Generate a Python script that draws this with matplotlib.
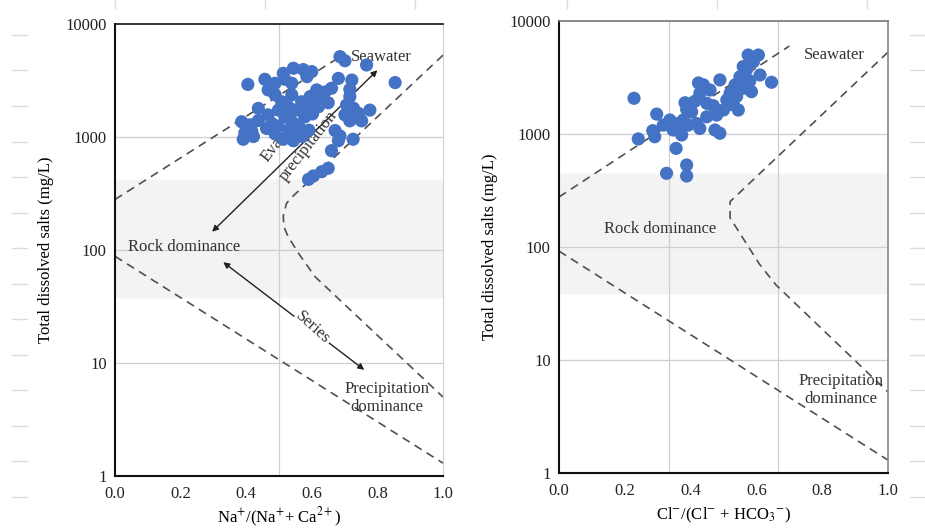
import numpy as np
from matplotlib import pyplot as plt
from matplotlib.lines import Line2D

plt.rcParams['font.family'] = ['Liberation Serif', 'DejaVu Serif']
plt.rcParams['mathtext.fontset'] = 'stix'

# ---- data ----
# left panel: Na+/(Na+ + Ca2+) vs TDS
na_ratio = [0.405, 0.457, 0.513, 0.544, 0.574, 0.600, 0.686, 0.701, 0.767, 0.854,
            0.722, 0.716, 0.681, 0.615, 0.640, 0.660, 0.467, 0.488, 0.508, 0.539,
            0.569, 0.595, 0.625, 0.650, 0.706, 0.727, 0.742, 0.777, 0.386, 0.412,
            0.396, 0.422, 0.391, 0.467, 0.462, 0.488, 0.513, 0.544, 0.571, 0.591,
            0.518, 0.539, 0.559, 0.579, 0.602, 0.671, 0.686, 0.681, 0.726, 0.660,
            0.650, 0.630, 0.605, 0.590, 0.716, 0.733, 0.620, 0.528, 0.549, 0.498,
            0.437, 0.488, 0.518, 0.585, 0.539, 0.701, 0.478, 0.498, 0.528, 0.559,
            0.437, 0.569, 0.590, 0.752, 0.716, 0.417]
na_tds = [2920, 3240, 3660, 4060, 3950, 3790, 5140, 4730, 4340, 3030,
          3190, 2640, 3300, 2610, 2500, 2700, 2610, 2360, 2050, 2360,
          2050, 2280, 2050, 2010, 1920, 1800, 1620, 1730, 1365, 1280,
          1090, 1010, 955, 1570, 1190, 1065, 955, 927, 1010, 1150,
          1510, 1365, 1280, 1510, 1600, 1140, 1020, 927, 955, 757,
          529, 493, 452, 422, 1390, 1480, 1850, 1850, 1730, 1730,
          1790, 2990, 3240, 3420, 2990, 1570, 1320, 1250, 1150, 1110,
          1400, 1730, 1920, 1390, 2280, 1130]

# right panel: Cl-/(Cl- + HCO3-) vs TDS
cl_ratio = [0.228, 0.241, 0.297, 0.285, 0.291, 0.327, 0.388, 0.388, 0.356, 0.317,
            0.337, 0.347, 0.363, 0.378, 0.373, 0.383, 0.403, 0.418, 0.428, 0.439,
            0.428, 0.459, 0.489, 0.474, 0.489, 0.479, 0.510, 0.530, 0.545, 0.540,
            0.535, 0.550, 0.560, 0.575, 0.606, 0.591, 0.611, 0.646, 0.580, 0.560,
            0.520, 0.449, 0.413, 0.388, 0.449, 0.500, 0.424, 0.342, 0.393, 0.570,
            0.585, 0.540, 0.469]
cl_tds = [2070, 904, 1500, 1070, 946, 449, 532, 425, 746, 1200,
          1330, 1085, 1240, 1330, 980, 1890, 1570, 1240, 1120, 2720,
          2290, 2450, 3010, 1085, 1015, 1470, 2000, 1810, 1630, 2450,
          2720, 3210, 3950, 5000, 5000, 4360, 3330, 2870, 2950, 2540,
          2290, 1870, 1950, 1650, 1420, 1630, 2830, 1200, 1200, 3700,
          2370, 2150, 1780]

# Gibbs boundary curves
left_upper_x = [0.0, 0.68]
left_upper_y = [280, 5000]
left_outer_x = [1.0, 0.579, 0.540, 0.523, 0.513, 0.515, 0.528, 0.559, 0.610, 1.0]
left_outer_y = [5300, 376, 295, 259, 200, 160, 131, 94, 58, 5.0]
left_lower_x = [0.0, 1.0]
left_lower_y = [88, 1.3]

right_upper_x = [0.0, 0.70]
right_upper_y = [277, 6000]
right_outer_x = [1.0, 0.52, 0.52, 0.61, 0.66, 1.0]
right_outer_y = [5300, 252, 181, 70, 46, 5.2]
right_lower_x = [0.0, 1.0]
right_lower_y = [92, 1.3]

yticks = [1, 10, 100, 1000, 10000]
xticks = [0.0, 0.2, 0.4, 0.6, 0.8, 1.0]
blue = '#4472C4'
dash_col = '#505050'
txt_col = '#333333'
fs = 12

fig = plt.figure(figsize=(9.25, 5.31), dpi=100)

# faint sheet lines behind the figure
stub = '#dcdcdc'
for yy in np.arange(35, 531, 35.5):
    fig.add_artist(Line2D([12/925, 27/925], [1-yy/531]*2, color=stub, lw=1))
    fig.add_artist(Line2D([910/925, 925/925], [1-yy/531]*2, color=stub, lw=1))
for xx in [115, 265, 415, 567, 717, 867]:
    fig.add_artist(Line2D([xx/925]*2, [1, 1-8/531], color=stub, lw=1))

ax1 = fig.add_axes([115/925, 1-476/531, 328/925, 452/531])
ax2 = fig.add_axes([559/925, 1-473/531, 329/925, 452/531])

for ax, vgrid in [(ax1, [0.5]), (ax2, [1/3, 2/3])]:
    ax.set_yscale('log')
    ax.set_xlim(0, 1)
    ax.set_ylim(1, 10000)
    ax.set_yticks(yticks)
    ax.set_yticklabels([str(v) for v in yticks])
    ax.minorticks_off()
    ax.set_xticks(xticks)
    ax.set_xticklabels(['%.1f' % v for v in xticks])
    ax.tick_params(length=0, labelsize=fs, colors='#222222')
    ax.tick_params(axis='x', pad=7)
    ax.tick_params(axis='y', pad=6)
    for v in vgrid:
        ax.axvline(v, color='#cfcfcf', lw=0.9, zorder=0.5)
    for v in [10, 100, 1000]:
        ax.axhline(v, color='#cfcfcf', lw=0.9, zorder=0.5)
    ax.set_ylabel('Total dissolved salts (mg/L)', fontsize=fs, labelpad=8)
    ax.spines['left'].set_color('#111111')
    ax.spines['bottom'].set_color('#111111')
    ax.spines['left'].set_linewidth(1.5)
    ax.spines['bottom'].set_linewidth(1.5)

ax1.spines['top'].set_color('#111111')
ax1.spines['top'].set_linewidth(1.2)
ax1.spines['right'].set_color('#d0d0d0')
ax2.spines['top'].set_color('#777777')
ax2.spines['right'].set_color('#888888')
ax2.spines['top'].set_linewidth(1.2)
ax2.spines['right'].set_linewidth(1.2)

# rock dominance band
ax1.axhspan(38, 420, color='#f3f3f3', zorder=0)
ax2.axhspan(39, 445, color='#f3f3f3', zorder=0)

dash = dict(color=dash_col, lw=1.2, ls=(0, (5, 3.5)), zorder=2)
ax1.plot(left_upper_x, left_upper_y, **dash)
ax1.plot(left_outer_x, left_outer_y, **dash)
ax1.plot(left_lower_x, left_lower_y, **dash)
ax2.plot(right_upper_x, right_upper_y, **dash)
ax2.plot(right_outer_x, right_outer_y, **dash)
ax2.plot(right_lower_x, right_lower_y, **dash)

# left panel arrows and labels
ax1.annotate('', xy=(0.296, 145), xytext=(0.80, 3900),
             arrowprops=dict(arrowstyle='<|-|>', color='#222222', lw=1,
                             mutation_scale=9, shrinkA=0, shrinkB=0), zorder=2)
ax1.annotate('', xy=(0.33, 78), xytext=(0.76, 8.7),
             arrowprops=dict(arrowstyle='<|-|>', color='#222222', lw=1,
                             mutation_scale=9, shrinkA=0, shrinkB=0), zorder=2)
ax1.text(0.604, 20.4, 'Series', rotation=-42, ha='center', va='center',
         fontsize=fs, color=txt_col, zorder=3,
         bbox=dict(facecolor='white', edgecolor='none', pad=1))
ax1.text(0.466, 590, 'Evaporation', rotation=52, rotation_mode='anchor',
         ha='left', va='baseline', fontsize=fs, color=txt_col, zorder=3)
ax1.text(0.521, 400, 'precipitation', rotation=52, rotation_mode='anchor',
         ha='left', va='baseline', fontsize=fs, color=txt_col, zorder=3)
ax1.text(0.811, 5100, 'Seawater', ha='center', va='center', fontsize=fs,
         color=txt_col, zorder=3)
ax1.text(0.21, 107, 'Rock dominance', ha='center', va='center', fontsize=fs,
         color=txt_col, zorder=3)
ax1.text(0.829, 4.9, 'Precipitation\ndominance', ha='center', va='center',
         fontsize=fs, color=txt_col, linespacing=1.15, zorder=3)

ax2.text(0.836, 5000, 'Seawater', ha='center', va='center', fontsize=fs,
         color=txt_col, zorder=3)
ax2.text(0.307, 145, 'Rock dominance', ha='center', va='center', fontsize=fs,
         color=txt_col, zorder=3)
ax2.text(0.857, 5.4, 'Precipitation\ndominance', ha='center', va='center',
         fontsize=fs, color=txt_col, linespacing=1.15, zorder=3)

ax1.scatter(na_ratio, na_tds, s=90, color=blue, edgecolors='none', zorder=4)
ax2.scatter(cl_ratio, cl_tds, s=90, color=blue, edgecolors='none', zorder=4)

ax1.set_xlabel(r'Na$^{+}$/(Na$^{+}$+ Ca$^{2+}$)', fontsize=fs, labelpad=3)
ax2.set_xlabel(r'Cl$^{-}$/(Cl$^{-}$ + HCO$_{3}$$^{-}$)', fontsize=fs, labelpad=5)

fig.savefig('out.png', dpi=100)
